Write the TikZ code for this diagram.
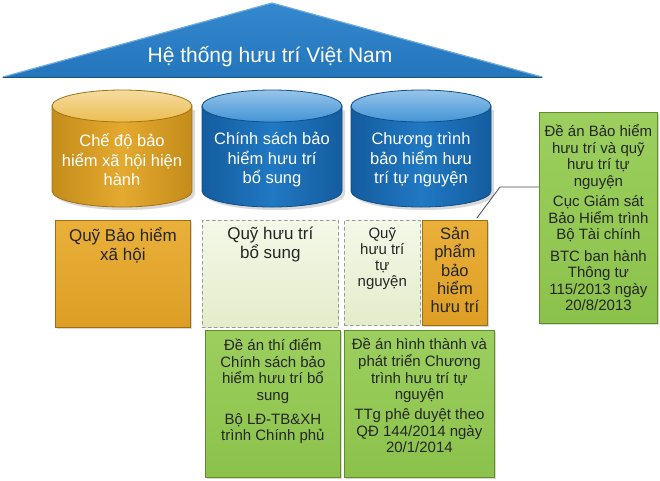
\documentclass[tikz,border=0pt]{standalone}
\usepackage{fontspec}
\setmainfont{Liberation Sans}
\usetikzlibrary{shadows}
\definecolor{rooftop}{RGB}{52,136,205}
\definecolor{roofbot}{RGB}{36,118,188}
\definecolor{roofedge}{RGB}{110,170,225}
\definecolor{yelbody}{RGB}{228,169,47}
\definecolor{yelside}{RGB}{196,140,26}
\definecolor{yeltop}{RGB}{236,190,82}
\definecolor{yeledge}{RGB}{160,115,20}
\definecolor{bluebody}{RGB}{32,121,195}
\definecolor{blueside}{RGB}{20,92,158}
\definecolor{bluetop}{RGB}{66,148,215}
\definecolor{blueedge}{RGB}{16,78,135}
\definecolor{otop}{RGB}{233,176,58}
\definecolor{obot}{RGB}{222,158,36}
\definecolor{oborder}{RGB}{156,111,20}
\definecolor{lgtop}{RGB}{244,248,232}
\definecolor{lgbot}{RGB}{228,236,202}
\definecolor{gtop}{RGB}{156,207,94}
\definecolor{gbot}{RGB}{139,194,75}
\definecolor{gborder}{RGB}{96,140,45}
\begin{document}
\begin{tikzpicture}[x=1pt,y=-1pt,line join=round,line cap=round,
	every node/.style={inner sep=0pt},
	chu/.style={align=center,text=black!85},
	cyltext/.style={align=center,text=white,font=\fontsize{16.5}{19.5}\selectfont},
	obox/.style={draw=oborder,line width=0.8pt,top color=otop,bottom color=obot,
		drop shadow={shadow xshift=2pt,shadow yshift=-2pt,opacity=0.3}},
	lgbox/.style={draw=black!40,dashed,line width=0.6pt,top color=lgtop,bottom color=lgbot},
	gbox/.style={draw=gborder,line width=0.8pt,top color=gtop,bottom color=gbot,
		drop shadow={shadow xshift=2pt,shadow yshift=-2pt,opacity=0.3}}]
	\def\rx{70} % ban truc ngang cua tru
	\def\ry{16} % ban truc dung
	\useasboundingbox (0,0) rectangle (660,480);
	\fill[white] (0,0) rectangle (660,480);
	% mai nha
	\path (272,3) coordinate (apex)
	(3,77) coordinate (bl)
	(542,77) coordinate (br);
	\shade[top color=rooftop,bottom color=roofbot] (apex)--(br)--(bl)--cycle;
	\draw[roofedge,line width=1.2pt] (bl)--(apex)--(br);
	\draw[roofbot!70!black,line width=0.8pt] (bl)--(br);
	\node[text=white,font=\fontsize{21}{24}\selectfont] (title) at (270,57) {Hệ thống hưu trí Việt Nam};
	% ba tru
	\foreach \cx/\than/\canh/\nap/\vien in {122/yelbody/yelside/yeltop/yeledge,272/bluebody/blueside/bluetop/blueedge,421/bluebody/blueside/bluetop/blueedge}{
		\fill[black,opacity=0.15] (\cx-\rx+3,110)--(\cx-\rx+3,194) arc[start angle=180,end angle=0,x radius=\rx,y radius=\ry]--(\cx+\rx+3,110)--cycle;
		\shade[left color=\canh,right color=\canh,middle color=\than] (\cx-\rx,106)--(\cx-\rx,191) arc[start angle=180,end angle=0,x radius=\rx,y radius=\ry]--(\cx+\rx,106)--cycle;
		\draw[\vien,line width=0.8pt] (\cx-\rx,106)--(\cx-\rx,191) arc[start angle=180,end angle=0,x radius=\rx,y radius=\ry]--(\cx+\rx,106);
		\shade[top color=\nap!55!white,bottom color=\nap] (\cx,106) ellipse[x radius=\rx,y radius=\ry];
		\draw[\vien,line width=0.8pt] (\cx,106) ellipse[x radius=\rx,y radius=\ry];
	}
	\node[cyltext] (c1) at (122,160) {Chế độ bảo\\hiểm xã hội hiện\\hành};
	\node[cyltext] (c2) at (272,160) {Chính sách bảo\\hiểm hưu trí\\bổ sung};
	\node[cyltext] (c3) at (421,160) {Chương trình\\bảo hiểm hưu\\trí tự nguyện};
	% hang quy
	\node[obox,minimum width=135,minimum height=107,anchor=north west] (qbhxh) at (55,220) {};
	\node[chu,anchor=north,font=\fontsize{17}{19}\selectfont] (qbhxh-t) at ([yshift=-8pt]qbhxh.north) {Quỹ Bảo hiểm\\xã hội};
	\node[lgbox,minimum width=136,minimum height=107,anchor=north west] (qbs) at (202,220) {};
	\node[chu,anchor=north,font=\fontsize{17}{19}\selectfont] (qbs-t) at ([yshift=-7pt]qbs.north) {Quỹ hưu trí\\bổ sung};
	\node[lgbox,minimum width=76,minimum height=105,anchor=north west] (qtn) at (344,220) {};
	\node[chu,anchor=north,font=\fontsize{15}{16}\selectfont] (qtn-t) at ([yshift=-8pt]qtn.north) {Quỹ\\hưu trí\\tự\\nguyện};
	\node[obox,minimum width=65,minimum height=105,anchor=north west] (sp) at (422,220) {};
	\node[chu,anchor=north,font=\fontsize{16.5}{18.3}\selectfont] (sp-t) at ([yshift=-7pt]sp.north) {Sản\\phẩm\\bảo\\hiểm\\hưu trí};
	% cac de an
	\node[gbox,minimum width=135,minimum height=147,anchor=north west] (da1) at (205,330) {};
	\node[chu,anchor=north,font=\fontsize{15}{16.7}\selectfont] (da1-t) at ([yshift=-8pt]da1.north) {Đề án thí điểm\\Chính sách bảo\\hiểm hưu trí bổ\\sung\\[7pt]Bộ LĐ-TB\&XH\\trình Chính phủ};
	\node[gbox,minimum width=150,minimum height=147,anchor=north west] (da2) at (344,330) {};
	\node[chu,anchor=north,font=\fontsize{15}{16.7}\selectfont] (da2-t) at ([yshift=-8pt]da2.north) {Đề án hình thành và\\phát triển Chương\\trình hưu trí tự\\nguyện\\[3pt]TTg phê duyệt theo\\QĐ 144/2014 ngày\\20/1/2014};
	\node[gbox,chu,minimum width=118,minimum height=211,anchor=north west,font=\fontsize{15}{16.5}\selectfont] (note) at (539,112) {Đề án Bảo hiểm\\hưu trí và quỹ\\hưu trí tự\\nguyện\\[4pt]Cục Giám sát\\Bảo Hiểm trình\\Bộ Tài chính\\[5pt]BTC ban hành\\Thông tư\\115/2013 ngày\\20/8/2013};
	% duong chu thich
	\coordinate (bend) at (500,187);
	\coordinate (tip) at ([xshift=22pt,yshift=2pt]sp.north);
	\draw[black!70,line width=0.8pt] (note.west |- bend)--(bend)--(tip);
\end{tikzpicture}
\end{document}
